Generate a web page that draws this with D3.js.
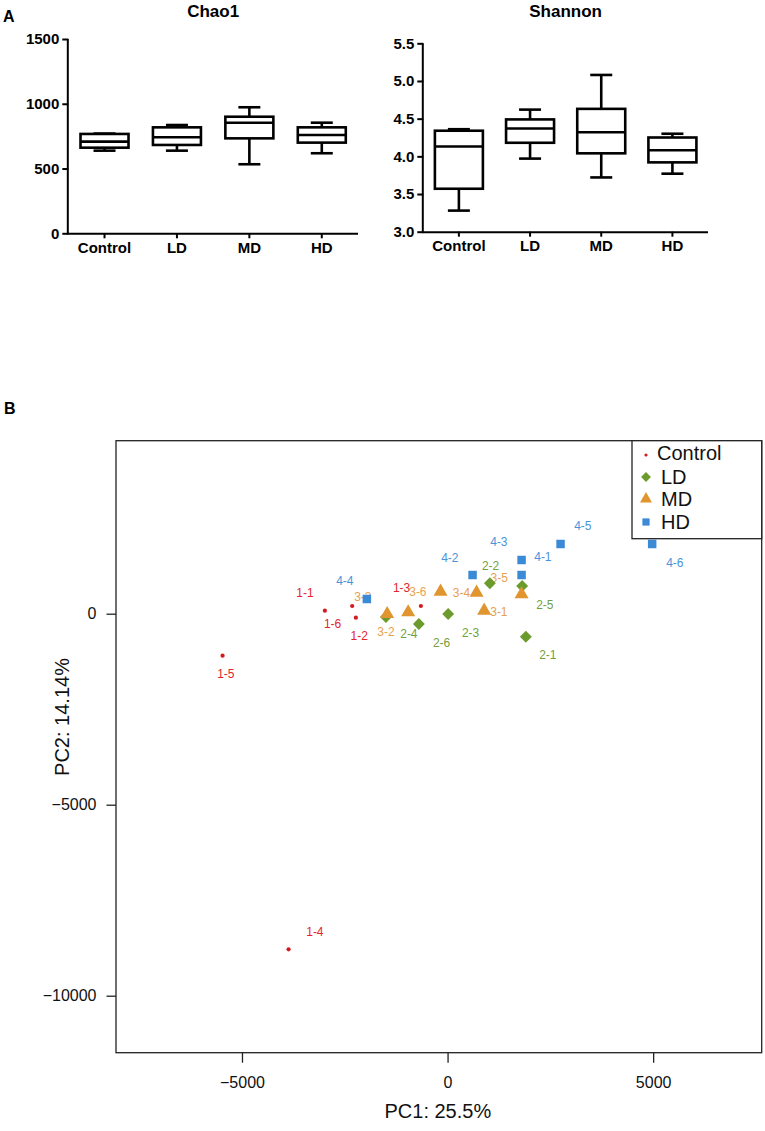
<!DOCTYPE html>
<html>
<head>
<meta charset="utf-8">
<script src="https://cdn.jsdelivr.net/npm/d3@7"></script>
<style>
  body { margin: 0; background: #fff; }
  svg { font-family: "Liberation Sans", Arial, sans-serif; }
</style>
</head>
<body>
<div id="chart"></div>
<script>
// Alpha diversity (panel A)
const groups = ["Control", "LD", "MD", "HD"];

const chaoMin = [638, 638, 533, 618];
const chaoQ1  = [661, 682, 733, 700];
const chaoMed = [708, 741, 854, 759];
const chaoQ3  = [767, 818, 900, 818];
const chaoMax = [770, 836, 973, 854];
const chaoTicks = [0, 500, 1000, 1500];

const shanMin = [3.28, 3.97, 3.72, 3.77];
const shanQ1  = [3.57, 4.18, 4.04, 3.92];
const shanMed = [4.13, 4.37, 4.32, 4.08];
const shanQ3  = [4.34, 4.49, 4.63, 4.25];
const shanMax = [4.36, 4.62, 5.08, 4.30];
const shanTicks = [3.0, 3.5, 4.0, 4.5, 5.0, 5.5];

// PCA (panel B) - sample names, scores and label positions in PC units
const ctrlNames = ["1-1", "1-6", "1-2", "1-3", "1-5", "1-4"];
const ctrlPC1 = [-2984, -2320, -2230, -649, -5472, -3867];
const ctrlPC2 = [79, 202, -105, 202, -1099, -8785];
const ctrlLabX = [-3470, -2797, -2150, -1119, -5392, -3227];
const ctrlLabY = [560, -277, -584, 681, -1579, -8325];

const ldNames = ["2-2", "2-5", "2-3", "2-6", "2-1", "2-4"];
const ldPC1 = [1029, 1814, 15, -698, 1904, -1500];
const ldPC2 = [796, 725, -8, -270, -602, -86];
const ldLabX = [1046, 2366, 559, -146, 2439, -941];
const ldLabY = [1257, 228, -487, -749, -1081, -531];

const mdNames = ["3-6", "3-4", "3-5", "3-1", "3-3", "3-2"];
const mdPC1 = [-170, 705, 1800, 890, -958, -1469];
const mdPC2 = [576, 550, 508, 79, 37, -8];
const mdLabX = [-722, 340, 1255, 1248, -2060, -1500];
const mdLabY = [568, 542, 953, 45, 437, -479];

const hdNames = ["4-4", "4-2", "4-3", "4-1", "4-5", "4-6"];
const hdPC1 = [-1963, 608, 1800, 1800, 2748, 4976];
const hdPC2 = [385, 1013, 1406, 1013, 1825, 1825];
const hdLabX = [-2498, 56, 1248, 2318, 3290, 5528];
const hdLabY = [864, 1458, 1877, 1484, 2296, 1327];

const pc1Ticks = [-5000, 0, 5000];
const pc2Ticks = [-10000, -5000, 0];

const svg = d3.select("#chart").append("svg")
  .attr("width", 765)
  .attr("height", 1131);

// panel letters
svg.append("text").attr("x", 3).attr("y", 22)
  .attr("font-size", 16).attr("font-weight", "bold").text("A");
svg.append("text").attr("x", 4).attr("y", 414)
  .attr("font-size", 16).attr("font-weight", "bold").text("B");

function drawBox(opts) {
  const g = svg.append("g");
  const x = d3.scaleBand().domain(groups).range([opts.left, opts.right]);
  const y = d3.scaleLinear().domain(opts.domain).range([opts.bottom, opts.top]);

  const yAxis = g.append("g")
    .attr("transform", `translate(${opts.left},0)`)
    .call(d3.axisLeft(y).tickValues(opts.ticks).tickFormat(opts.fmt)
      .tickSize(6).tickSizeOuter(0).tickPadding(3));
  const xAxis = g.append("g")
    .attr("transform", `translate(0,${opts.bottom})`)
    .call(d3.axisBottom(x).tickSize(5).tickSizeOuter(0).tickPadding(4));

  [xAxis, yAxis].forEach((a) => {
    a.selectAll("path, line").attr("stroke", "#000").attr("stroke-width", 2);
    a.selectAll("text").attr("fill", "#000").attr("font-size", 15)
      .attr("font-weight", "bold");
  });
  yAxis.select(".domain").attr("d", `M-0.5,${opts.top}V${opts.bottom}`);
  xAxis.select(".domain").attr("d", `M${opts.left - 1},0.5H${opts.right}`);

  g.append("text")
    .attr("x", (opts.left + opts.right) / 2 + opts.titleDx)
    .attr("y", 17)
    .attr("text-anchor", "middle")
    .attr("font-size", 17).attr("font-weight", "bold")
    .text(opts.title);

  const bw = 48, cw = 22;
  const boxes = g.selectAll(".box").data(groups).enter().append("g")
    .attr("transform", (d) => `translate(${x(d) + x.bandwidth() / 2},0)`)
    .attr("fill", "none").attr("stroke", "#000").attr("stroke-width", 2.6);

  boxes.append("line")
    .attr("y1", (d, i) => y(opts.max[i])).attr("y2", (d, i) => y(opts.q3[i]));
  boxes.append("line")
    .attr("y1", (d, i) => y(opts.q1[i])).attr("y2", (d, i) => y(opts.min[i]));
  boxes.append("line").attr("x1", -cw / 2).attr("x2", cw / 2)
    .attr("y1", (d, i) => y(opts.max[i])).attr("y2", (d, i) => y(opts.max[i]));
  boxes.append("line").attr("x1", -cw / 2).attr("x2", cw / 2)
    .attr("y1", (d, i) => y(opts.min[i])).attr("y2", (d, i) => y(opts.min[i]));
  boxes.append("rect")
    .attr("x", -bw / 2).attr("width", bw)
    .attr("y", (d, i) => y(opts.q3[i]))
    .attr("height", (d, i) => y(opts.q1[i]) - y(opts.q3[i]))
    .attr("fill", "#fff");
  boxes.append("line").attr("x1", -bw / 2).attr("x2", bw / 2)
    .attr("y1", (d, i) => y(opts.med[i])).attr("y2", (d, i) => y(opts.med[i]));
}

drawBox({
  left: 68.3, right: 358, top: 39, bottom: 233.3, domain: [0, 1500],
  ticks: chaoTicks, fmt: d3.format("d"), title: "Chao1", titleDx: 0,
  min: chaoMin, q1: chaoQ1, med: chaoMed, q3: chaoQ3, max: chaoMax
});
drawBox({
  left: 423.3, right: 708, top: 43.3, bottom: 231.7, domain: [3.0, 5.5],
  ticks: shanTicks, fmt: d3.format(".1f"), title: "Shannon", titleDx: 0,
  min: shanMin, q1: shanQ1, med: shanMed, q3: shanQ3, max: shanMax
});

// ---- PCA panel ----
const P = {left: 116, right: 761.7, top: 440.7, bottom: 1052.7};
const xScale = d3.scaleLinear().domain([-8064, 7640]).range([P.left, P.right]);
const yScale = d3.scaleLinear().domain([-11492, 4529]).range([P.bottom, P.top]);

const pca = svg.append("g");
pca.append("rect")
  .attr("x", P.left).attr("y", P.top)
  .attr("width", P.right - P.left).attr("height", P.bottom - P.top)
  .attr("fill", "none").attr("stroke", "#222").attr("stroke-width", 1.3);

const bx = pca.append("g").attr("transform", `translate(0,${P.bottom})`)
  .call(d3.axisBottom(xScale).tickValues(pc1Ticks).tickSize(10).tickPadding(14)
    .tickFormat(d3.format("d")));
const ly = pca.append("g").attr("transform", `translate(${P.left},0)`)
  .call(d3.axisLeft(yScale).tickValues(pc2Ticks).tickSize(9.5).tickPadding(10)
    .tickFormat(d3.format("d")));
[bx, ly].forEach((a) => {
  a.select(".domain").remove();
  a.selectAll("line").attr("stroke", "#222").attr("stroke-width", 1.3);
  a.selectAll("text").attr("fill", "#111").attr("font-size", 16);
});

pca.append("text").attr("x", (P.left + P.right) / 2 - 1).attr("y", 1118)
  .attr("text-anchor", "middle").attr("font-size", 20).attr("fill", "#111")
  .text("PC1: 25.5%");
pca.append("text").attr("transform", "translate(69,717) rotate(-90)")
  .attr("text-anchor", "middle").attr("font-size", 20).attr("fill", "#111")
  .text("PC2: 14.14%");

const series = [
  {name: "Control", names: ctrlNames, x: ctrlPC1, y: ctrlPC2, lx: ctrlLabX, ly: ctrlLabY,
   fill: "#d41a1f", text: "#e3242b", sym: d3.symbolCircle, size: 14, legSize: 8},
  {name: "LD", names: ldNames, x: ldPC1, y: ldPC2, lx: ldLabX, ly: ldLabY,
   fill: "#6b9a2d", text: "#74a03c", sym: d3.symbolDiamond2, size: 90, legSize: 62},
  {name: "MD", names: mdNames, x: mdPC1, y: mdPC2, lx: mdLabX, ly: mdLabY,
   fill: "#e0952f", text: "#e8a050", sym: d3.symbolTriangle, size: 85, legSize: 62},
  {name: "HD", names: hdNames, x: hdPC1, y: hdPC2, lx: hdLabX, ly: hdLabY,
   fill: "#3a8ad5", text: "#4a93da", sym: d3.symbolSquare, size: 72, legSize: 52}
];

// sample labels
series.forEach((s) => {
  pca.append("g").selectAll("text").data(s.names).enter().append("text")
    .attr("x", (d, i) => xScale(s.lx[i]))
    .attr("y", (d, i) => yScale(s.ly[i]))
    .attr("dy", "0.35em")
    .attr("text-anchor", "middle")
    .attr("font-size", 12)
    .attr("fill", s.text)
    .text((d) => d);
});

// points
series.forEach((s) => {
  pca.append("g").selectAll("path").data(s.names).enter().append("path")
    .attr("d", d3.symbol().type(s.sym).size(s.size))
    .attr("transform", (d, i) => `translate(${xScale(s.x[i])},${yScale(s.y[i])})`)
    .attr("fill", s.fill);
});

// legend
const leg = pca.append("g");
leg.append("rect").attr("x", 632).attr("y", P.top).attr("width", P.right - 632)
  .attr("height", 98).attr("fill", "#fff").attr("stroke", "#222").attr("stroke-width", 1.3);
const legY = [453, 477, 499, 522];
series.forEach((s, i) => {
  leg.append("path")
    .attr("d", d3.symbol().type(s.sym).size(s.legSize))
    .attr("transform", `translate(646,${legY[i] + (i === 0 ? 2 : 0)})`)
    .attr("fill", s.fill);
  leg.append("text").attr("x", i === 0 ? 657 : 661).attr("y", legY[i])
    .attr("dy", "0.35em").attr("font-size", 20).attr("fill", "#111")
    .text(s.name);
});
</script>
</body>
</html>
